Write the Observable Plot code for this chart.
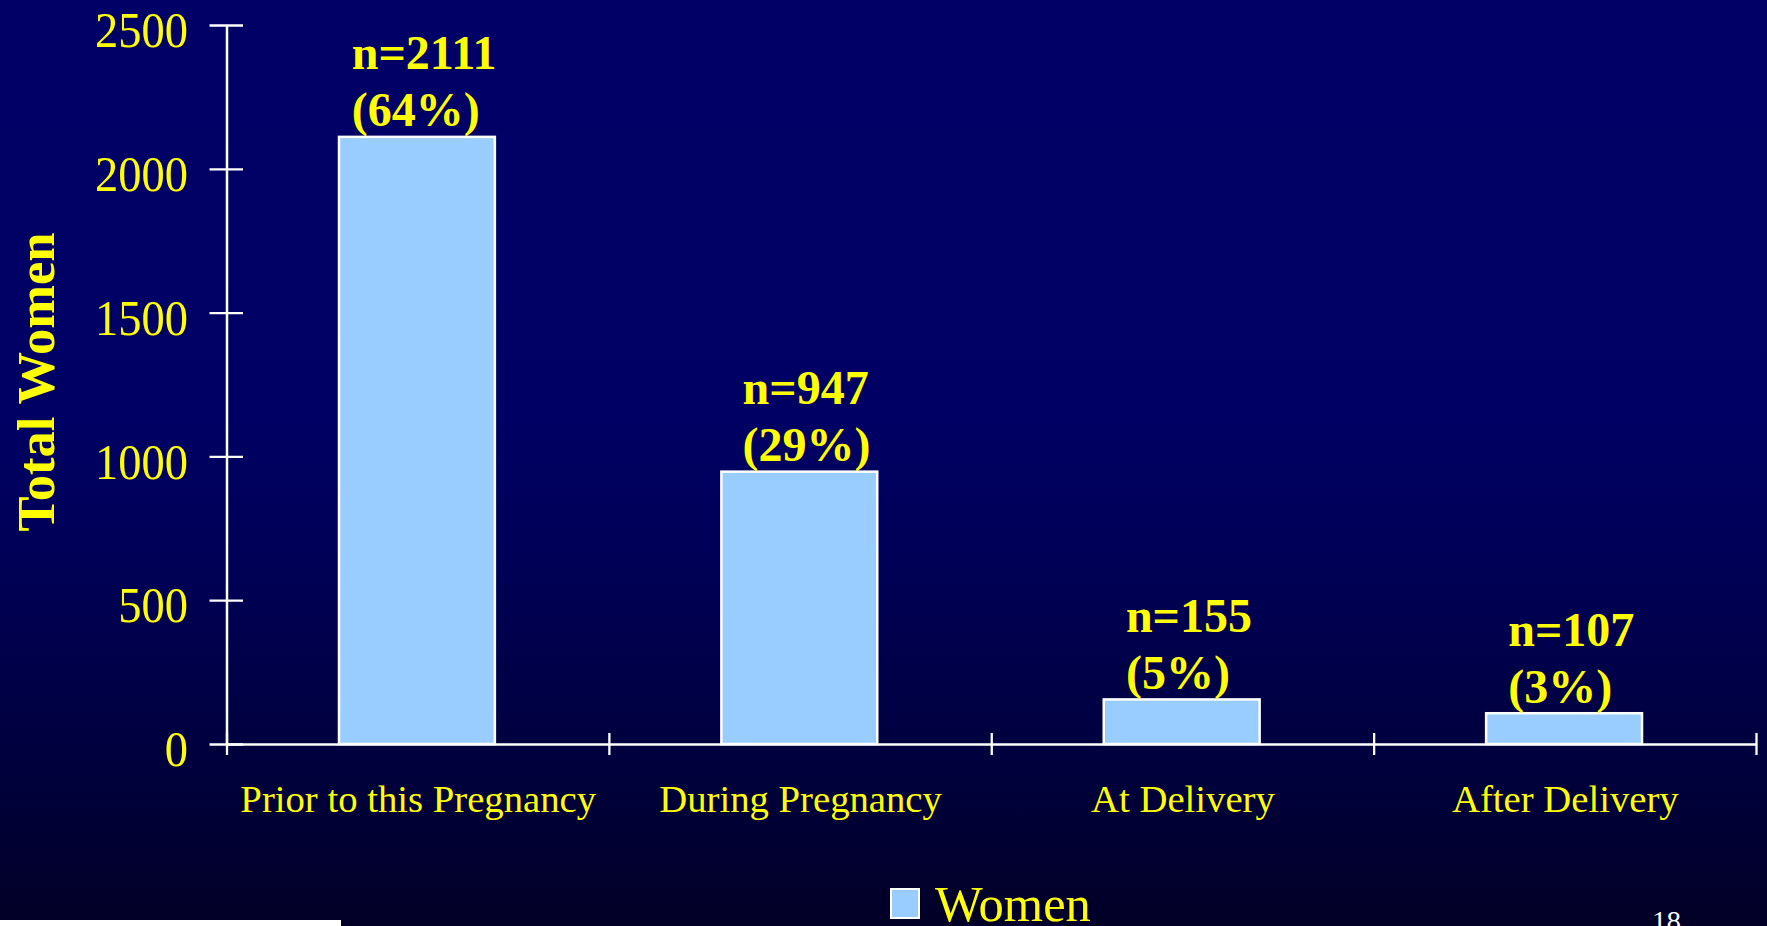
<!DOCTYPE html>
<html>
<head>
<meta charset="utf-8">
<script src="https://cdn.jsdelivr.net/npm/d3@7"></script>
<script src="https://cdn.jsdelivr.net/npm/@observablehq/plot@0.6"></script>
<style>
  html, body { margin: 0; padding: 0; background: #000040; }
  #slide {
    position: relative; width: 1767px; height: 926px; overflow: hidden;
    background: linear-gradient(to bottom, #000066 0%, #000064 45%, #000055 62%, #00003a 85%, #020026 100%);
    font-family: "Liberation Serif", "Times New Roman", serif;
  }
  #chart svg { display: block; background: transparent; }
  #legend-swatch {
    position: absolute; left: 890px; top: 888px; width: 30px; height: 31px;
    box-sizing: border-box; border: 2px solid #ffffff; background: #99CCFF;
  }
  #legend-label {
    position: absolute; left: 935px; top: 884px; font-size: 50.5px; line-height: 40px;
    color: #FFFF00; white-space: nowrap;
  }
  #page-num {
    position: absolute; left: 1652px; top: 907px; font-size: 29px; line-height: 29px;
    color: #ffffff; white-space: nowrap;
  }
  #footer-bar {
    position: absolute; left: 0; top: 920px; width: 341px; height: 6px; background: #ffffff;
  }
</style>
</head>
<body>
<div id="slide">
  <div id="chart"></div>
  <div id="legend-swatch"></div>
  <div id="legend-label"></div>
  <div id="page-num"></div>
  <div id="footer-bar"></div>
</div>
<script>
// ---- data ----
const categories = ["Prior to this Pregnancy", "During Pregnancy", "At Delivery", "After Delivery"];
const counts = [2111, 947, 155, 107];
const percents = [64, 29, 5, 3];
const yTicks = [0, 500, 1000, 1500, 2000, 2500];
const yLabel = "Total Women";
const seriesName = "Women";
const pageNumber = "18";

// ---- build table for the library ----
const data = categories.map((c, i) => ({category: c, index: i, count: counts[i], pct: percents[i]}));
const boundaries = d3.range(categories.length + 1);
const yMax = yTicks[yTicks.length - 1];
const barLabel = d => `n=${d.count}\n(${d.pct}%)`;

const YELLOW = "#FFFF00";
const W = 1767, H = 860;

const plot = Plot.plot({
  width: W,
  height: H,
  marginTop: 25,
  marginBottom: H - 744,
  marginLeft: 226.5,
  marginRight: 11,
  x: {type: "linear", domain: [0, categories.length], axis: null},
  y: {type: "linear", domain: [0, yMax], axis: null},
  style: {background: "transparent", fontFamily: "'Liberation Serif', 'Times New Roman', serif"},
  marks: [
    // bars
    Plot.rect(data, {
      x1: "index", x2: d => d.index + 1, y1: 0, y2: "count",
      insetLeft: 112.5, insetRight: 114,
      fill: "#99CCFF", stroke: "#ffffff", strokeWidth: 2.5
    }),
    // axis lines
    Plot.ruleX([0], {x: d => d, y1: 0, y2: yMax, stroke: "#ffffff", strokeWidth: 2.5}),
    Plot.ruleY([0], {y: d => d, x1: 0, x2: categories.length, stroke: "#ffffff", strokeWidth: 2.5}),
    // y tick marks (crossing the axis)
    Plot.ruleY(yTicks, {y: d => d, x1: 0, x2: 0, insetLeft: -17, insetRight: -16.5, stroke: "#ffffff", strokeWidth: 2.3}),
    // x tick marks at category boundaries (crossing the axis)
    Plot.ruleX(boundaries, {x: d => d, y1: 0, y2: 0, insetTop: -11, insetBottom: -11, stroke: "#ffffff", strokeWidth: 2.3}),
    // y tick labels
    Plot.text(yTicks, {
      x: 0, y: d => d, text: d => String(d),
      textAnchor: "end", lineAnchor: "bottom", dx: -39, dy: 21.6,
      fontSize: 50, fill: YELLOW
    }),
    // category labels
    Plot.text(data, {
      x: d => d.index + 0.5, y: 0, text: "category",
      textAnchor: "middle", lineAnchor: "bottom", dy: 67.7,
      fontSize: 38.7, fill: YELLOW
    }),
    // bar value labels
    Plot.text(data, {
      x: d => d.index + 0.5, y: "count",
      text: barLabel,
      textAnchor: "start", lineAnchor: "bottom", lineHeight: 1.19, dy: -11,
      fontSize: 48, fontWeight: "bold", fill: YELLOW
    }),
    // y axis title
    Plot.text([yLabel], {
      frameAnchor: "left", text: d => d, rotate: -90,
      textAnchor: "middle", lineAnchor: "bottom", dx: -173, dy: -3,
      fontSize: 52.5, fontWeight: "bold", fill: YELLOW
    })
  ]
});

document.getElementById("chart").append(plot);

const tickStrings = new Set(yTicks.map(String));
const barStarts = new Set(data.map(d => barLabel(d).split("\n")[0]));
plot.querySelectorAll("text").forEach(t => {
  const first = t.firstElementChild ? t.firstElementChild.textContent : t.textContent;
  const tr = t.getAttribute("transform") || "";
  if (!t.firstElementChild && tickStrings.has(t.textContent)) {
    // horizontally condensed tick labels, as in the reference
    t.setAttribute("transform", tr + " scale(0.93,1)");
  } else if (barStarts.has(first)) {
    // centre each two-line label block (left-aligned lines) over its bar
    const w = t.getBBox().width;
    t.setAttribute("transform", tr + ` translate(${6 - w / 2},0)`);
  }
});

document.getElementById("legend-label").textContent = seriesName;
document.getElementById("page-num").textContent = pageNumber;
</script>
</body>
</html>
